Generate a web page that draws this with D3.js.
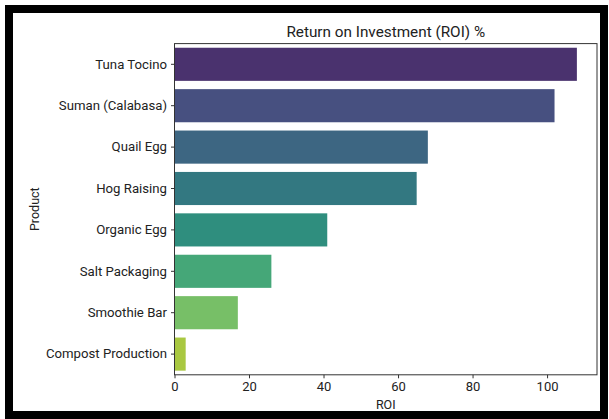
<!DOCTYPE html>
<html>
<head>
<meta charset="utf-8">
<script src="https://cdn.jsdelivr.net/npm/d3@7"></script>
<style>
  html, body { margin: 0; padding: 0; background: #fff; }
  svg text { font-family: "Roboto", "Noto Sans", sans-serif; fill: #222; }
</style>
</head>
<body>
<div id="chart"></div>
<script>
// data
const products = ["Tuna Tocino", "Suman (Calabasa)", "Quail Egg", "Hog Raising",
  "Organic Egg", "Salt Packaging", "Smoothie Bar", "Compost Production"];
const roi = [108, 102, 68, 65, 41, 26, 17, 3];
const xTicks = [0, 20, 40, 60, 80, 100];

const width = 609, height = 419;
const margin = { top: 43.6, right: 12, bottom: 44.2, left: 174.5 };

const svg = d3.select("#chart").append("svg")
  .attr("width", width)
  .attr("height", height);

// black frame round the figure
svg.append("rect")
  .attr("x", 9).attr("y", 9)
  .attr("width", 595).attr("height", 406)
  .attr("fill", "#fff")
  .attr("stroke", "#000")
  .attr("stroke-width", 8);

const x = d3.scaleLinear()
  .domain([0, d3.max(roi) * 1.05])
  .range([margin.left, width - margin.right]);

const y = d3.scaleBand()
  .domain(products)
  .range([margin.top, height - margin.bottom])
  .paddingInner(0.2)
  .paddingOuter(0.1);

// viridis, sampled like seaborn and desaturated to 0.75
const colors = products.map((p, i) => {
  const c = d3.hsl(d3.interpolateViridis((i + 1) / (products.length + 1)));
  c.s *= 0.75;
  return c.formatHex();
});

const g = svg.append("g");

g.selectAll(".bar")
  .data(products)
  .join("rect")
  .attr("class", "bar")
  .attr("x", x(0))
  .attr("y", d => y(d))
  .attr("width", (d, i) => x(roi[i]) - x(0))
  .attr("height", y.bandwidth())
  .attr("fill", (d, i) => colors[i]);

// frame of the axes
svg.append("rect")
  .attr("x", x.range()[0])
  .attr("y", margin.top)
  .attr("width", x.range()[1] - x.range()[0])
  .attr("height", height - margin.bottom - margin.top)
  .attr("fill", "none")
  .attr("stroke", "#333")
  .attr("stroke-width", 1);

const xAxis = svg.append("g")
  .attr("transform", `translate(0,${height - margin.bottom})`)
  .call(d3.axisBottom(x).tickValues(xTicks).tickSize(3.5).tickPadding(3).tickFormat(d3.format("d")));
xAxis.select(".domain").remove();
xAxis.selectAll("line").attr("stroke", "#333");
xAxis.selectAll("text").attr("font-size", 13).attr("fill", "#222");

const yAxis = svg.append("g")
  .attr("transform", `translate(${margin.left},0)`)
  .call(d3.axisLeft(y).tickSize(3.5).tickPadding(4));
yAxis.select(".domain").remove();
yAxis.selectAll("line").attr("stroke", "#333");
yAxis.selectAll("text").attr("font-size", 13.2).attr("fill", "#222");

svg.selectAll(".tick text").attr("font-family", "Roboto, 'Noto Sans', sans-serif");

svg.append("text")
  .attr("x", (x.range()[0] + x.range()[1]) / 2)
  .attr("y", 37)
  .attr("text-anchor", "middle")
  .attr("font-size", 15.3)
  .text("Return on Investment (ROI) %");

svg.append("text")
  .attr("x", (x.range()[0] + x.range()[1]) / 2)
  .attr("y", 409)
  .attr("text-anchor", "middle")
  .attr("font-size", 12.5)
  .text("ROI");

svg.append("text")
  .attr("transform", `translate(39,${(margin.top + height - margin.bottom) / 2}) rotate(-90)`)
  .attr("text-anchor", "middle")
  .attr("font-size", 12.5)
  .text("Product");
</script>
</body>
</html>
